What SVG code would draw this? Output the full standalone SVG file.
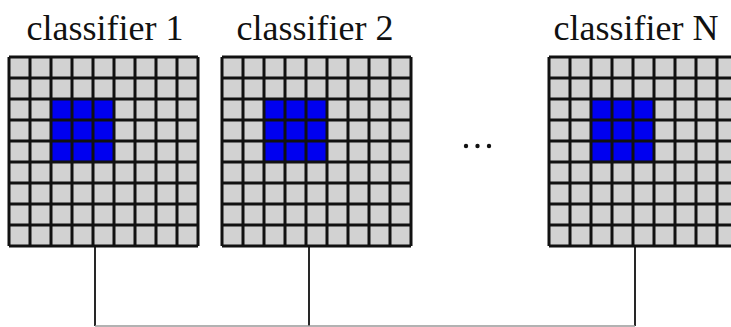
<svg xmlns="http://www.w3.org/2000/svg" xmlns:xlink="http://www.w3.org/1999/xlink" width="731" height="327" viewBox="0 0 731 327">
<style>
.lbl{font-family:"Liberation Serif","Times New Roman",serif;font-size:36px;fill:#111;text-anchor:middle}
.gl{stroke:#111;stroke-width:3;fill:none}
.conn{stroke:#111;stroke-width:1.8;fill:none}
.base{stroke:#999;stroke-width:1.5;fill:none}
</style>
<defs>
<g id="grid">
<rect x="0" y="0" width="189" height="189" fill="#d2d2d2"/>
<rect x="42" y="42" width="63" height="63" fill="#0000f0"/>
<path class="gl" d="M0 0V189M21 0V189M42 0V189M63 0V189M84 0V189M105 0V189M126 0V189M147 0V189M168 0V189M189 0V189M0 0H189M0 21H189M0 42H189M0 63H189M0 84H189M0 105H189M0 126H189M0 147H189M0 168H189M0 189H189"/>
</g>
</defs>
<rect width="731" height="327" fill="#fff"/>
<g id="connectors">
<path class="conn" d="M95 246V326M309 246V326M635 246V326"/>
<path class="base" d="M95 326H635"/>
</g>
<g id="classifier1">
<text class="lbl" x="105" y="40">classifier 1</text>
<use xlink:href="#grid" href="#grid" x="9" y="57"/>
</g>
<g id="classifier2">
<text class="lbl" x="315" y="40">classifier 2</text>
<use xlink:href="#grid" href="#grid" x="222" y="57"/>
</g>
<g id="ellipsis">
<circle cx="466" cy="146" r="2.2" fill="#111"/>
<circle cx="477.5" cy="146" r="2.2" fill="#111"/>
<circle cx="489" cy="146" r="2.2" fill="#111"/>
</g>
<g id="classifierN">
<text class="lbl" x="636" y="40">classifier N</text>
<use xlink:href="#grid" href="#grid" x="549" y="57"/>
</g>
</svg>
